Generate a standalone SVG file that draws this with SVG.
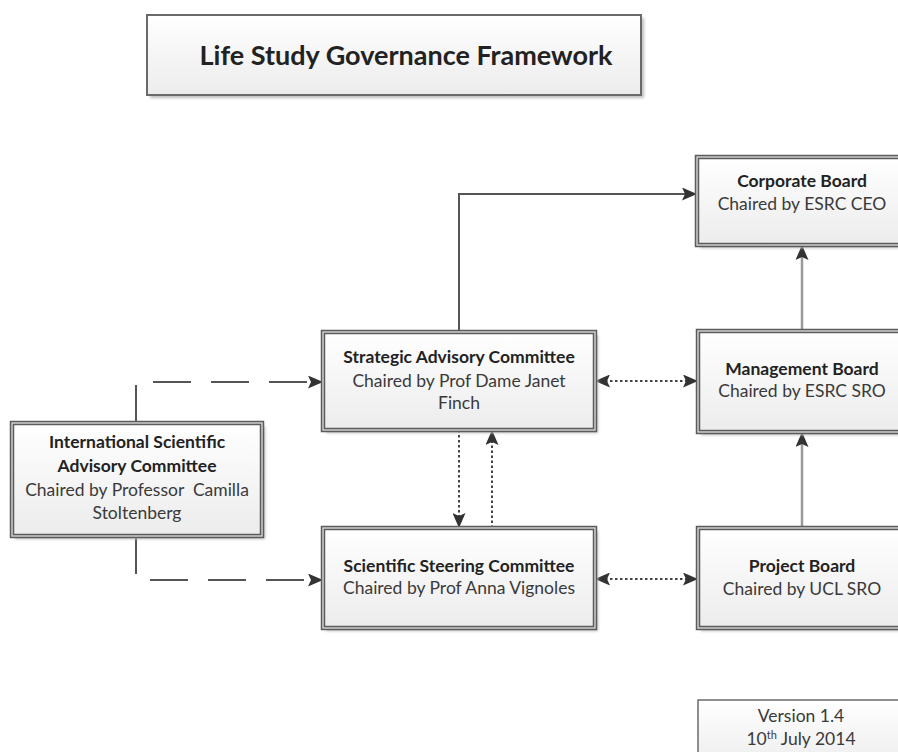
<svg xmlns="http://www.w3.org/2000/svg" width="898" height="752" viewBox="0 0 898 752">
<style>
.box{fill:url(#g);stroke:#5c5c5c;stroke-width:4.5}
.inner{fill:none;stroke:#d4d4d4;stroke-width:1.4}
.shadow{fill:#bdbdbd;filter:url(#blur)}
.single{fill:url(#g);stroke:#6a6a6a;stroke-width:1.5}
.t{font-family:Lato,"Liberation Sans",sans-serif;font-size:17.5px;text-anchor:middle}
.b{font-weight:bold;fill:#222}
.r{fill:#3a3a3a}
.solid{fill:none;stroke:#555;stroke-width:2}
.gray{fill:none;stroke:#9a9a9a;stroke-width:2.5}
.dot{fill:none;stroke:#444;stroke-width:2;stroke-dasharray:2.5 2.5}
.dash{fill:none;stroke:#555;stroke-width:2;stroke-dasharray:38 20}
</style>
<defs>
<linearGradient id="g" x1="0" y1="0" x2="0" y2="1">
<stop offset="0" stop-color="#ffffff"/>
<stop offset="1" stop-color="#ececec"/>
</linearGradient>
<filter id="blur" x="-10%" y="-10%" width="120%" height="120%"><feGaussianBlur stdDeviation="1.5"/></filter>
<marker id="arr" viewBox="0 0 15 13" refX="15" refY="6.5" markerWidth="15" markerHeight="13" markerUnits="userSpaceOnUse" orient="auto-start-reverse">
<path d="M0,0 L15,6.5 L0,13 L3,6.5 Z" fill="#333"/>
</marker>
</defs>

<g id="title">
<rect class="shadow" x="150" y="18" width="494" height="80"/>
<rect x="147" y="15" width="494" height="80" fill="url(#g)" stroke="#6a6a6a" stroke-width="2"/>
<text x="406" y="65" font-family="Lato,'Liberation Sans',sans-serif" font-size="27" font-weight="bold" fill="#222" text-anchor="middle">Life Study Governance Framework</text>
</g>

<g id="connectors">
<polyline class="solid" points="459,332 459,194 697,194" marker-end="url(#arr)"/>
<line class="gray" x1="802" y1="331" x2="802" y2="245" marker-end="url(#arr)"/>
<line class="gray" x1="802" y1="528" x2="802" y2="432" marker-end="url(#arr)"/>
<line class="dot" x1="595" y1="381" x2="698" y2="381" marker-start="url(#arr)" marker-end="url(#arr)"/>
<line class="dot" x1="595" y1="579" x2="698" y2="579" marker-start="url(#arr)" marker-end="url(#arr)"/>
<line class="dot" x1="459" y1="430" x2="459" y2="528" marker-end="url(#arr)"/>
<line class="dot" x1="492" y1="528" x2="492" y2="430" marker-end="url(#arr)"/>
<polyline class="dash" points="136,423 136,382 323,382" marker-end="url(#arr)"/>
<polyline class="dash" points="136,536 136,580 323,580" marker-end="url(#arr)"/>
</g>

<g id="corporate">
<rect class="shadow" x="700" y="160" width="212" height="88"/>
<rect class="box" x="697" y="157" width="212" height="88"/>
<rect class="inner" x="697" y="157" width="212" height="88"/>
<text class="t b" x="802" y="187">Corporate Board</text>
<text class="t r" x="802" y="210">Chaired by ESRC CEO</text>
</g>

<g id="sac">
<rect class="shadow" x="326" y="335" width="272" height="98"/>
<rect class="box" x="323" y="332" width="272" height="98"/>
<rect class="inner" x="323" y="332" width="272" height="98"/>
<text class="t b" x="459" y="363">Strategic Advisory Committee</text>
<text class="t r" x="459" y="387">Chaired by Prof Dame Janet</text>
<text class="t r" x="459" y="409">Finch</text>
</g>

<g id="management">
<rect class="shadow" x="701" y="334" width="212" height="101"/>
<rect class="box" x="698" y="331" width="212" height="101"/>
<rect class="inner" x="698" y="331" width="212" height="101"/>
<text class="t b" x="802" y="375">Management Board</text>
<text class="t r" x="802" y="397">Chaired by ESRC SRO</text>
</g>

<g id="isac">
<rect class="shadow" x="15" y="426" width="250" height="113"/>
<rect class="box" x="12" y="423" width="250" height="113"/>
<rect class="inner" x="12" y="423" width="250" height="113"/>
<text class="t b" x="137" y="448">International Scientific</text>
<text class="t b" x="137" y="472">Advisory Committee</text>
<text class="t r" x="137" y="496" xml:space="preserve">Chaired by Professor  Camilla</text>
<text class="t r" x="137" y="519">Stoltenberg</text>
</g>

<g id="ssc">
<rect class="shadow" x="326" y="531" width="272" height="100"/>
<rect class="box" x="323" y="528" width="272" height="100"/>
<rect class="inner" x="323" y="528" width="272" height="100"/>
<text class="t b" x="459" y="572">Scientific Steering Committee</text>
<text class="t r" x="459" y="594">Chaired by Prof Anna Vignoles</text>
</g>

<g id="project">
<rect class="shadow" x="701" y="531" width="212" height="100"/>
<rect class="box" x="698" y="528" width="212" height="100"/>
<rect class="inner" x="698" y="528" width="212" height="100"/>
<text class="t b" x="802" y="572">Project Board</text>
<text class="t r" x="802" y="595">Chaired by UCL SRO</text>
</g>

<g id="version">
<rect class="single" x="698" y="700" width="212" height="70"/>
<text class="t r" x="801" y="722">Version 1.4</text>
<text class="t r" x="801" y="745">10<tspan font-size="11" dy="-6">th</tspan><tspan dy="6"> July 2014</tspan></text>
</g>
</svg>
